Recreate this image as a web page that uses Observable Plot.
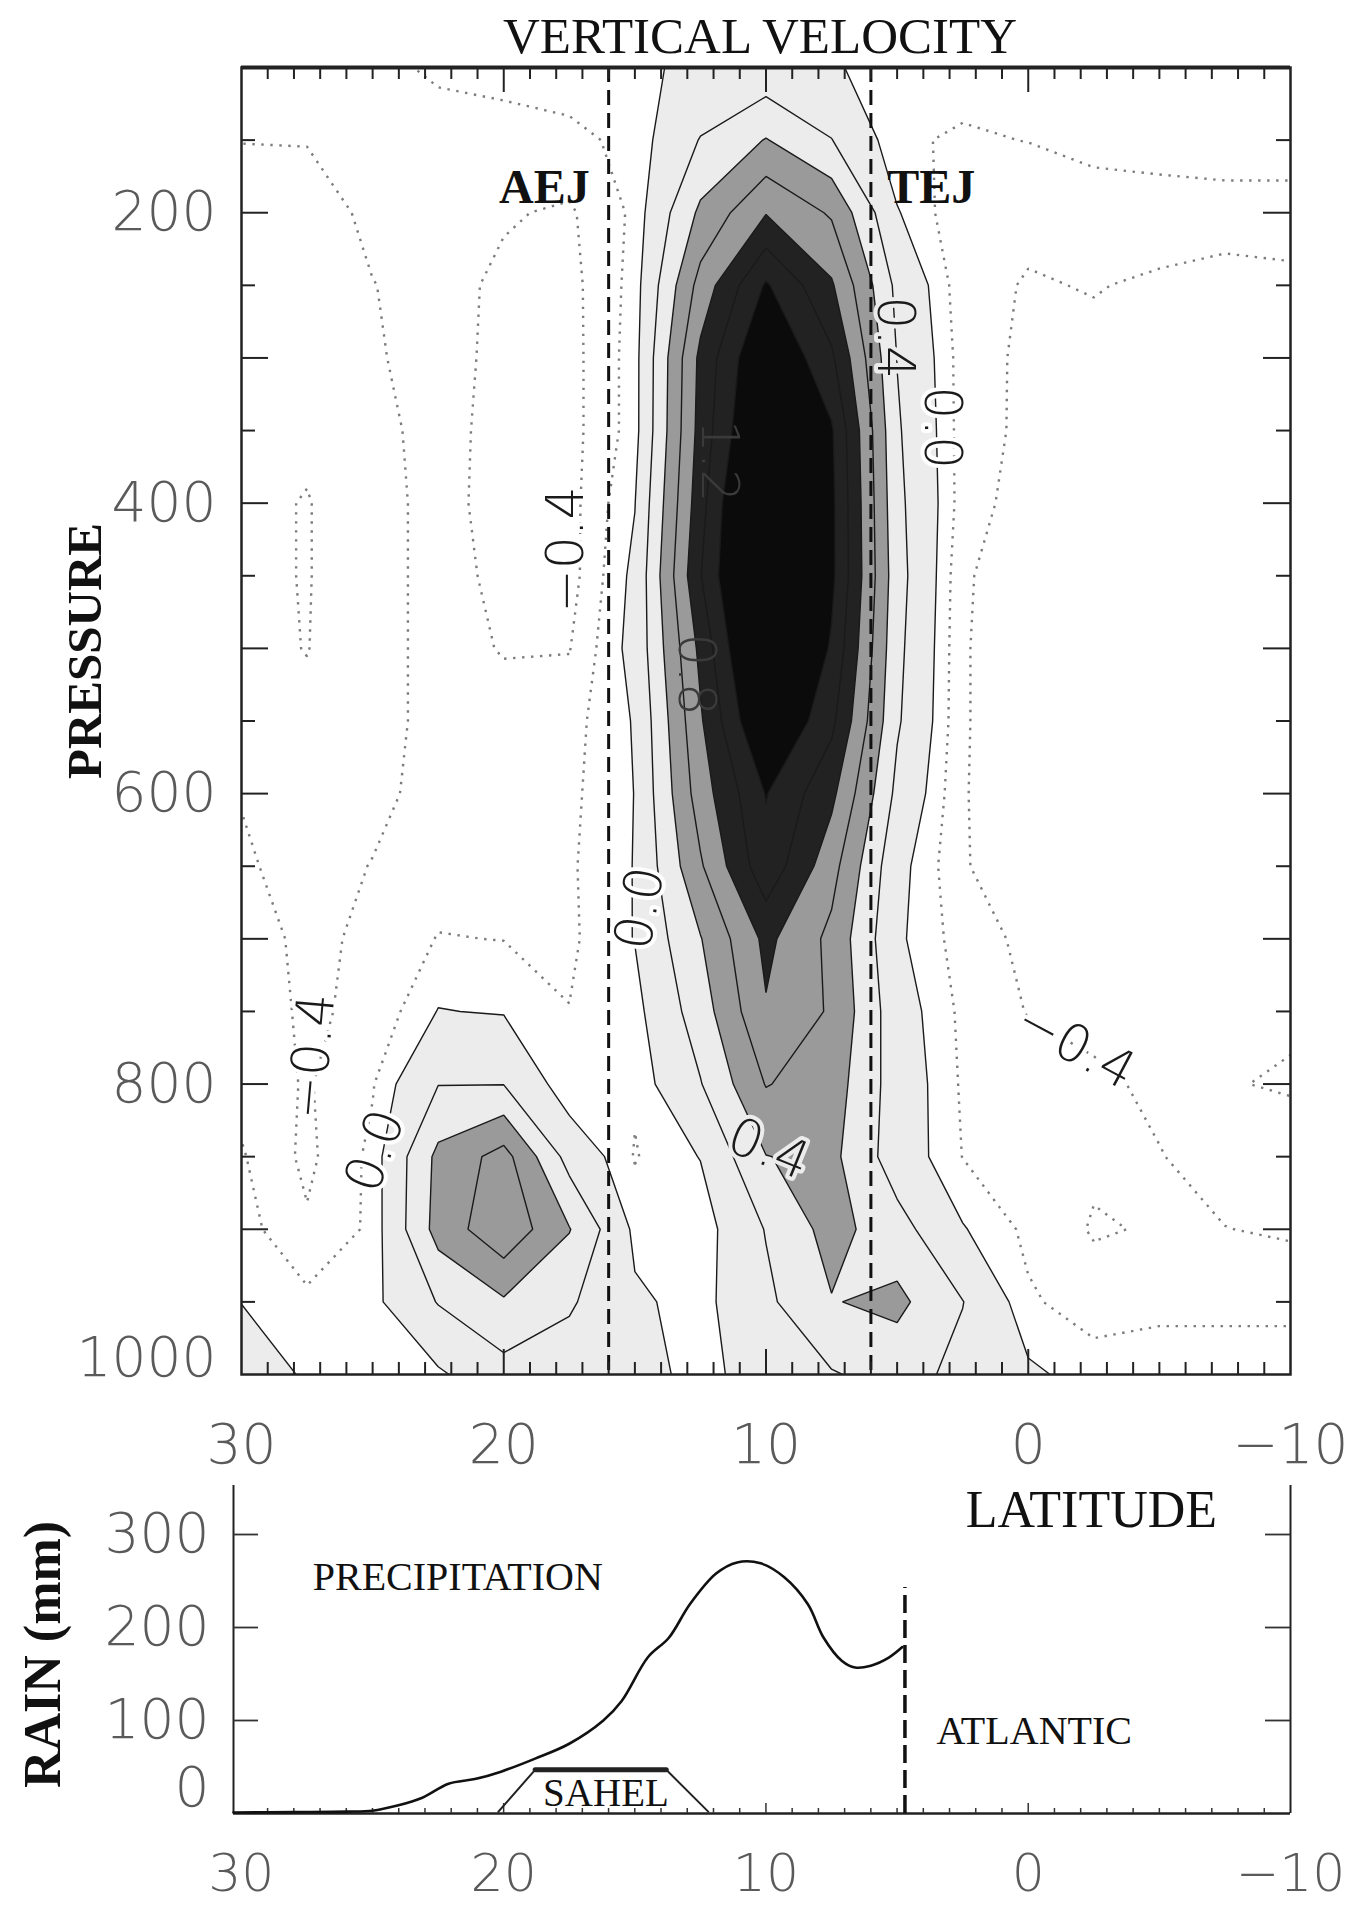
<!DOCTYPE html>
<html>
<head>
<meta charset="utf-8">
<script src="https://cdn.jsdelivr.net/npm/d3@7"></script>
<script src="https://cdn.jsdelivr.net/npm/@observablehq/plot@0.6"></script>
<style>
  html, body { margin: 0; padding: 0; background: #fff; }
  #chart svg { display: block; }
</style>
</head>
<body>
<div id="chart"></div>
<script>
// ---------------- DATA ----------------
// Latitude grid (deg N) and pressure levels (hPa) of the vertical-velocity section
const latitudes = [30, 27.5, 25, 22.5, 20, 17.5, 15, 12.5, 10, 7.5, 5, 2.5, 0, -2.5, -5, -7.5, -10];
const pressureLevels = [100, 150, 200, 250, 300, 350, 400, 450, 500, 550, 600, 650, 700, 750, 800, 850, 900, 950, 1000];

// Vertical velocity on each pressure level, listed from 30N to 10S
const w100  = [-0.30, -0.30, -0.25, -0.17, -0.15, -0.12, -0.05, 0.06, 0.12, 0.02, -0.08, -0.12, -0.12, -0.12, -0.10, -0.10, -0.10];
const w150  = [-0.395, -0.39, -0.33, -0.28, -0.26, -0.24, -0.157, 0.42, 0.82, 0.41, -0.17, -0.225, -0.195, -0.14, -0.11, -0.10, -0.10];
const w200  = [-0.50, -0.50, -0.353, -0.33, -0.38, -0.43, -0.16, 0.88, 1.58, 1.15, 0.02, -0.36, -0.35, -0.30, -0.30, -0.28, -0.28];
const w250  = [-0.55, -0.55, -0.405, -0.33, -0.44, -0.47, -0.13, 1.35, 2.45, 1.65, 0.30, -0.33, -0.415, -0.39, -0.43, -0.494, -0.46];
const w300  = [-0.55, -0.55, -0.42, -0.33, -0.45, -0.48, -0.11, 1.70, 2.90, 2.07, 0.39, -0.30, -0.447, -0.45, -0.46, -0.48, -0.48];
const w350  = [-0.56, -0.56, -0.45, -0.34, -0.46, -0.48, -0.11, 1.75, 3.10, 2.45, 0.45, -0.30, -0.45, -0.48, -0.50, -0.50, -0.50];
const w400  = [-0.55, -0.61, -0.47, -0.34, -0.47, -0.48, -0.01, 1.85, 3.50, 2.50, 0.50, -0.30, -0.50, -0.50, -0.52, -0.52, -0.52];
const w450  = [-0.55, -0.61, -0.47, -0.34, -0.44, -0.49, 0.07, 1.98, 3.50, 2.50, 0.55, -0.37, -0.54, -0.52, -0.52, -0.52, -0.52];
const w500  = [-0.55, -0.605, -0.47, -0.34, -0.41, -0.41, 0.10, 1.70, 3.30, 2.35, 0.50, -0.38, -0.55, -0.52, -0.52, -0.52, -0.52];
const w550  = [-0.52, -0.56, -0.47, -0.34, -0.34, -0.28, 0.02, 1.55, 2.95, 2.10, 0.45, -0.38, -0.55, -0.50, -0.50, -0.50, -0.50];
const w600  = [-0.41, -0.50, -0.45, -0.33, -0.30, -0.25, 0.005, 1.40, 2.42, 1.70, 0.30, -0.39, -0.50, -0.50, -0.50, -0.50, -0.50];
const w650  = [-0.37, -0.48, -0.393, -0.30, -0.28, -0.23, 0.01, 1.15, 2.28, 1.35, 0.10, -0.38, -0.55, -0.50, -0.50, -0.50, -0.50];
const w700  = [-0.32, -0.44, -0.366, -0.19, -0.205, -0.24, 0.01, 0.78, 1.70, 1.10, 0.05, -0.30, -0.45, -0.50, -0.50, -0.50, -0.52];
const w750  = [-0.30, -0.43, -0.355, 0.01, -0.02, -0.195, -0.10, 0.60, 1.565, 1.15, 0.15, -0.25, -0.41, -0.48, -0.50, -0.55, -0.57];
const w800  = [-0.27, -0.42, -0.216, 0.39, 0.39, -0.19, -0.17, 0.38, 1.22, 1.00, 0.20, -0.23, -0.30, -0.35, -0.45, -0.588, -0.62];
const w850  = [-0.18, -0.45, -0.15, 0.90, 1.35, 0.25, -0.215, 0.01, 0.79, 0.90, 0.19, -0.205, -0.30, -0.36, -0.39, -0.50, -0.50];
const w900  = [-0.12, -0.37, -0.16, 0.95, 1.50, 0.82, -0.07, -0.15, 0.42, 0.95, 0.55, 0.02, -0.25, -0.42, -0.38, -0.395, -0.43];
const w950  = [-0.005, -0.15, -0.08, 0.42, 0.75, 0.45, 0.05, -0.10, 0.32, 0.78, 0.90, 0.41, -0.17, -0.30, -0.25, -0.25, -0.25];
const w1000 = [0.15, -0.03, -0.10, -0.05, 0.25, 0.20, 0.10, -0.08, 0.13, 0.37, 0.55, 0.30, 0.05, -0.10, -0.10, -0.10, -0.10];

// Contour levels
const solidLevels = [0, 0.4, 0.8, 1.2, 1.6, 2.0, 2.4];
const dottedLevels = [-0.6, -0.4, -0.2];
const shadeLevels = [0, 0.8, 1.6, 2.4];

// Jet axes (latitude)
const jetNames = ["AEJ", "TEJ"];
const jetLat = [16, 6];

// Contour labels
const labelText  = ["−0.4", "−0.4", "0.0", "0.0", "0.4", "−0.4", "0.4", "0.0", "1.2", "0.8"];
const labelLat   = [17.6, 27.3, 24.9, 14.8, 9.9, -1.8, 5.1, 3.3, 11.8, 12.7];
const labelP     = [432, 781, 846, 679, 845, 774, 286, 348, 371, 518];
const labelAngle = [-90, -85, -70, -80, 22, 28, 90, 90, 90, 90];

// Axis tick labels
const latTickLabels = [30, 20, 10, 0, -10];
const pressureTickLabels = [200, 400, 600, 800, 1000];
const rainTickLabels = [0, 100, 200, 300];

// Precipitation (mm) against latitude
const rainLat = [30.3, 28, 26, 25, 24.05, 23.1, 22.1, 21.1, 20.1, 18.8, 17.5, 16.2, 15.5, 14.5, 13.7, 12.9, 11.9, 11.1, 10.2, 9.3, 8.4, 7.8, 7.1, 6.6, 6.0, 5.3, 4.8];
const rainMm  = [1, 1.5, 2, 3, 8.6, 17, 32, 37, 45, 59, 75, 100, 121, 168, 189, 225, 258, 270, 269, 254, 225, 189, 164, 157, 159, 168, 179];

// Sahel bracket and Atlantic coast marker
const sahelLat = [20.2, 18.8, 13.8, 12.2];
const sahelMm  = [2, 47, 47, 2];
const coastLat = [4.7];
const coastTopMm = 243;

// ---------------- BUILD ----------------
const rows = [w100, w150, w200, w250, w300, w350, w400, w450, w500, w550, w600, w650, w700, w750, w800, w850, w900, w950, w1000];
const grid = rows.flat();
const dLat = latitudes[0] - latitudes[1];
const dP = pressureLevels[1] - pressureLevels[0];
const gridOpts = {
  value: Plot.identity,
  width: latitudes.length,
  height: pressureLevels.length,
  x1: latitudes[0] + dLat / 2,
  x2: latitudes[latitudes.length - 1] - dLat / 2,
  y1: pressureLevels[0] - dP / 2,
  y2: pressureLevels[pressureLevels.length - 1] + dP / 2,
  clip: true
};
const shadeColors = ["#ececec", "#9a9a9a", "#222222", "#0b0b0b"];

const fmt = (d) => (d < 0 ? "−" + Math.abs(d) : String(d));
const tickFont = {fontFamily: "DejaVu Sans", fontWeight: 200, fontSize: 55, color: "#5a5a5a"};
const tickFontSmall = {...tickFont, fontSize: 52};
const serif = "Liberation Serif, Times New Roman, serif";

const labelIdx = d3.range(labelText.length);
const labelValue = (i) => +labelText[i].replace("−", "-");

// top panel geometry
const W = 1351, H1 = 1480, mL = 241, mR = 61, mT = 67, mB = 106;
const FW = W - mL - mR, FH = H1 - mT - mB;
const latMinor = d3.range(29, -10, -1).filter((d) => d % 10 !== 0);
const latMajor = [20, 10, 0];
const pMinor = d3.range(150, 1000, 100);
const pMajor = d3.range(200, 1000, 100);

const topPlot = Plot.plot({
  width: W, height: H1,
  marginLeft: mL, marginRight: mR, marginTop: mT, marginBottom: mB,
  x: {domain: [30, -10], axis: null},
  y: {domain: [1000, 100], axis: null},
  style: {background: "#fff", fontFamily: "DejaVu Sans"},
  marks: [
    ...shadeLevels.map((t, k) => Plot.contour(grid, {...gridOpts, thresholds: [t], fill: shadeColors[k], stroke: "none"})),
    Plot.contour(grid, {...gridOpts, thresholds: solidLevels, fill: "none", stroke: "#1a1a1a", strokeWidth: 1.4}),
    Plot.contour(grid, {...gridOpts, thresholds: dottedLevels, fill: "none", stroke: "#7c7c7c", strokeWidth: 2.4, strokeDasharray: "2.4,6.6"}),
    Plot.ruleX(jetLat, {x: (d) => d, stroke: "#111", strokeWidth: 3, strokeDasharray: "15,8"}),
    Plot.text(labelIdx.filter((i) => labelValue(i) <= 0), {x: (i) => labelLat[i], y: (i) => labelP[i], text: (i) => labelText[i], rotate: (i) => labelAngle[i], fontSize: 52, fontFamily: "DejaVu Sans", fontWeight: 200, fill: "#1a1a1a", stroke: "#fff", strokeWidth: 8}),
    Plot.text(labelIdx.filter((i) => labelValue(i) > 0 && labelValue(i) < 0.8), {x: (i) => labelLat[i], y: (i) => labelP[i], text: (i) => labelText[i], rotate: (i) => labelAngle[i], fontSize: 52, fontFamily: "DejaVu Sans", fontWeight: 200, fill: "#1a1a1a", stroke: "#ececec", strokeWidth: 8}),
    Plot.text(labelIdx.filter((i) => labelValue(i) >= 0.8), {x: (i) => labelLat[i], y: (i) => labelP[i], text: (i) => labelText[i], rotate: (i) => labelAngle[i], fontSize: 52, fontFamily: "DejaVu Sans", fontWeight: 200, fill: "#3a3a3a"}),
    Plot.text([jetNames[0]], {x: jetLat[0] + 0.72, y: 183, text: (d) => d, textAnchor: "end", fontSize: 48, fontWeight: "bold", fontFamily: serif, fill: "#111"}),
    Plot.text([jetNames[1]], {x: jetLat[1] - 0.62, y: 183, text: (d) => d, textAnchor: "start", fontSize: 48, fontWeight: "bold", fontFamily: serif, fill: "#111"}),
    // ticks (inward)
    Plot.tickX(latMinor, {x: (d) => d, insetBottom: FH - 12, stroke: "#222", strokeWidth: 2}),
    Plot.tickX(latMajor, {x: (d) => d, insetBottom: FH - 25, stroke: "#222", strokeWidth: 2}),
    Plot.tickX(latMinor, {x: (d) => d, insetTop: FH - 12, stroke: "#222", strokeWidth: 2}),
    Plot.tickX(latMajor, {x: (d) => d, insetTop: FH - 25, stroke: "#222", strokeWidth: 2}),
    Plot.tickY(pMinor, {y: (d) => d, insetRight: FW - 14, stroke: "#222", strokeWidth: 2}),
    Plot.tickY(pMajor, {y: (d) => d, insetRight: FW - 27, stroke: "#222", strokeWidth: 2}),
    Plot.tickY(pMinor, {y: (d) => d, insetLeft: FW - 14, stroke: "#222", strokeWidth: 2}),
    Plot.tickY(pMajor, {y: (d) => d, insetLeft: FW - 27, stroke: "#222", strokeWidth: 2}),
    Plot.frame({stroke: "#222", strokeWidth: 2.5}),
    Plot.ruleY([100], {stroke: "#222", strokeWidth: 4}),
    // axes labels
    Plot.axisX(latTickLabels, {anchor: "bottom", tickSize: 0, tickPadding: 49, tickFormat: fmt, label: null, ...tickFont}),
    Plot.axisY(pressureTickLabels.slice(0, -1), {anchor: "left", tickSize: 0, tickPadding: 25, tickFormat: fmt, label: null, ...tickFont}),
    Plot.axisY(pressureTickLabels.slice(-1), {anchor: "left", tickSize: 0, tickPadding: 25, tickFormat: fmt, label: null, dy: -16, ...tickFont}),
    Plot.text(["VERTICAL VELOCITY"], {frameAnchor: "top", lineAnchor: "middle", textAnchor: "middle", dx: -6, dy: -31, text: (d) => d, fontSize: 51, fontFamily: serif, fill: "#111"}),
    Plot.text(["PRESSURE"], {frameAnchor: "left", lineAnchor: "middle", textAnchor: "middle", dx: -156, dy: -70, rotate: -90, text: (d) => d, fontSize: 49, fontWeight: "bold", fontFamily: serif, fill: "#111"})
  ]
});

// bottom panel geometry
const H2 = 426, mL2 = 233, mT2 = 5, mB2 = 93;
const FW2 = W - mL2 - mR, FH2 = H2 - mT2 - mB2;
const xDom2 = [30.3, -10];

const bottomPlot = Plot.plot({
  width: W, height: H2,
  marginLeft: mL2, marginRight: mR, marginTop: mT2, marginBottom: mB2,
  x: {domain: xDom2, axis: null},
  y: {domain: [0, 352.7], axis: null},
  style: {background: "#fff", fontFamily: "DejaVu Sans"},
  marks: [
    Plot.ruleX(xDom2, {x: (d) => d, stroke: "#222", strokeWidth: 2}),
    Plot.ruleY([0], {stroke: "#222", strokeWidth: 2.5}),
    Plot.tickX(latMinor, {x: (d) => d, insetTop: FH2 - 5, stroke: "#333", strokeWidth: 1.5}),
    Plot.tickX(latMajor, {x: (d) => d, insetTop: FH2 - 10, stroke: "#333", strokeWidth: 1.5}),
    Plot.tickY(rainTickLabels.slice(1), {y: (d) => d, insetRight: FW2 - 25, stroke: "#333", strokeWidth: 1.8}),
    Plot.tickY(rainTickLabels.slice(1), {y: (d) => d, insetLeft: FW2 - 25, stroke: "#333", strokeWidth: 1.8}),
    Plot.line(rainLat.map((d, i) => i), {x: (i) => rainLat[i], y: (i) => rainMm[i], curve: "catmull-rom", stroke: "#111", strokeWidth: 2.6}),
    Plot.ruleX(coastLat, {x: (d) => d, y1: 0, y2: coastTopMm, stroke: "#111", strokeWidth: 3.5, strokeDasharray: "18,7"}),
    Plot.line(sahelLat.map((d, i) => i), {x: (i) => sahelLat[i], y: (i) => sahelMm[i], stroke: "#222", strokeWidth: 2}),
    Plot.line([1, 2], {x: (i) => sahelLat[i], y: (i) => sahelMm[i], stroke: "#222", strokeWidth: 5}),
    Plot.text(["SAHEL"], {x: 16.1, y: 21.5, text: (d) => d, fontSize: 39, fontFamily: serif, fill: "#111"}),
    Plot.text(["PRECIPITATION"], {x: 27.28, y: 254, text: (d) => d, textAnchor: "start", fontSize: 40, fontFamily: serif, fill: "#111"}),
    Plot.text(["ATLANTIC"], {x: 3.5, y: 89, text: (d) => d, textAnchor: "start", fontSize: 40, fontFamily: serif, fill: "#111"}),
    Plot.text(["LATITUDE"], {x: -7.2, y: 326, text: (d) => d, textAnchor: "end", fontSize: 52, fontFamily: serif, fill: "#111"}),
    Plot.text(["RAIN (mm)"], {frameAnchor: "left", lineAnchor: "middle", textAnchor: "middle", dx: -190, dy: 5, rotate: -90, text: (d) => d, fontSize: 52, fontWeight: "bold", fontFamily: serif, fill: "#111"}),
    Plot.axisX(latTickLabels, {anchor: "bottom", tickSize: 0, tickPadding: 41, tickFormat: fmt, label: null, ...tickFontSmall}),
    Plot.axisY(rainTickLabels.slice(1), {anchor: "left", tickSize: 0, tickPadding: 24, tickFormat: fmt, label: null, ...tickFont}),
    Plot.axisY(rainTickLabels.slice(0, 1), {anchor: "left", tickSize: 0, tickPadding: 24, tickFormat: fmt, label: null, dy: -25, ...tickFont})
  ]
});

const chart = document.getElementById("chart");
chart.appendChild(topPlot);
chart.appendChild(bottomPlot);
</script>
</body>
</html>
